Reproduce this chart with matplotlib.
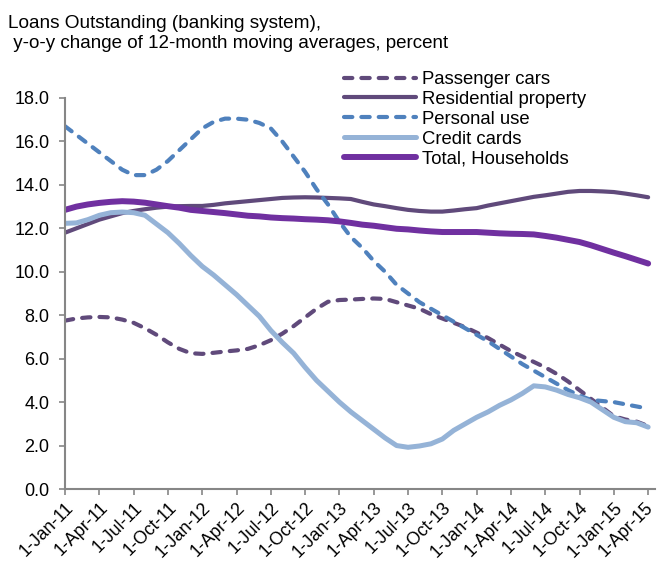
import matplotlib
matplotlib.use("Agg")
import matplotlib.pyplot as plt
import matplotlib.transforms as mtransforms
import numpy as np

plt.rcParams['font.family'] = ['Liberation Sans', 'DejaVu Sans']
plt.rcParams['lines.scale_dashes'] = False

tick_labels = ["1-Jan-11", "1-Apr-11", "1-Jul-11", "1-Oct-11", "1-Jan-12", "1-Apr-12",
               "1-Jul-12", "1-Oct-12", "1-Jan-13", "1-Apr-13", "1-Jul-13", "1-Oct-13",
               "1-Jan-14", "1-Apr-14", "1-Jul-14", "1-Oct-14", "1-Jan-15", "1-Apr-15"]

passenger_cars = [7.75, 7.85, 7.9, 7.92, 7.9, 7.8, 7.65, 7.4, 7.1, 6.75, 6.45, 6.25,
                  6.22, 6.27, 6.33, 6.38, 6.45, 6.62, 6.85, 7.15, 7.5, 7.9, 8.3, 8.62,
                  8.7, 8.72, 8.75, 8.77, 8.75, 8.6, 8.45, 8.3, 8.05, 7.85, 7.65, 7.45,
                  7.2, 6.95, 6.65, 6.35, 6.1, 5.85, 5.6, 5.3, 4.95, 4.55, 4.15, 3.75,
                  3.35, 3.2, 3.1, 2.9]
residential = [11.8, 12.0, 12.2, 12.4, 12.55, 12.7, 12.8, 12.88, 12.95, 13.0, 13.02, 13.03,
               13.03, 13.08, 13.15, 13.2, 13.25, 13.3, 13.35, 13.4, 13.42, 13.43, 13.42, 13.4,
               13.38, 13.35, 13.22, 13.1, 13.02, 12.93, 12.85, 12.8, 12.77, 12.77, 12.82, 12.88,
               12.93, 13.05, 13.15, 13.25, 13.35, 13.45, 13.52, 13.6, 13.68, 13.72, 13.72, 13.7,
               13.67, 13.6, 13.52, 13.43]
personal_use = [16.7, 16.3, 15.9, 15.5, 15.1, 14.7, 14.45, 14.45, 14.7, 15.1, 15.6, 16.1,
                16.6, 16.9, 17.05, 17.05, 17.0, 16.85, 16.6, 16.0, 15.3, 14.6, 13.8, 13.1,
                12.3, 11.6, 11.1, 10.5, 10.0, 9.4, 9.0, 8.6, 8.3, 8.0, 7.7, 7.4,
                7.1, 6.8, 6.45, 6.1, 5.75, 5.45, 5.15, 4.85, 4.55, 4.3, 4.1, 4.05,
                4.0, 3.9, 3.8, 3.7]
credit_cards = [12.23, 12.25, 12.4, 12.6, 12.72, 12.75, 12.72, 12.6, 12.2, 11.8, 11.3, 10.75,
                10.25, 9.85, 9.4, 8.95, 8.45, 7.95, 7.3, 6.75, 6.25, 5.6, 5.0, 4.5,
                4.0, 3.55, 3.15, 2.75, 2.35, 2.0, 1.92, 1.98, 2.08, 2.3, 2.7, 3.0,
                3.3, 3.55, 3.85, 4.1, 4.4, 4.75, 4.7, 4.55, 4.35, 4.2, 4.0, 3.65,
                3.3, 3.1, 3.05, 2.85]
total_households = [12.85, 13.0, 13.1, 13.17, 13.22, 13.25, 13.23, 13.18, 13.1, 13.02, 12.95, 12.85,
                    12.8, 12.75, 12.7, 12.64, 12.58, 12.55, 12.5, 12.47, 12.45, 12.42, 12.4, 12.37,
                    12.32, 12.25, 12.17, 12.12, 12.05, 11.98, 11.95, 11.9, 11.86, 11.83, 11.83, 11.83,
                    11.83, 11.8, 11.77, 11.75, 11.74, 11.72, 11.65, 11.57, 11.47, 11.37, 11.22, 11.05,
                    10.88, 10.72, 10.55, 10.38]

months = np.arange(len(total_households))
tick_pos = np.arange(len(tick_labels)) * 3

FS = 13.3
fig = plt.figure(figsize=(6.58, 5.66), dpi=100)
ax = fig.add_axes([65/658, 1-489/566, 590/658, 391/566])

dash = (6.0, 6.5)
ax.plot(months, passenger_cars, color='#604A7B', lw=3.0, dashes=dash,
        dash_capstyle='round', solid_capstyle='round', label='Passenger cars')
ax.plot(months, residential, color='#604A7B', lw=3.0, solid_capstyle='round',
        label='Residential property')
ax.plot(months, personal_use, color='#4F81BD', lw=3.0, dashes=dash,
        dash_capstyle='round', label='Personal use')
ax.plot(months, credit_cards, color='#95B3D7', lw=3.6, solid_capstyle='round',
        label='Credit cards')
ax.plot(months, total_households, color='#7030A0', lw=4.3, solid_capstyle='round',
        label='Total, Households')

ax.set_xlim(0, 51.6)
ax.set_ylim(0, 18)
ax.set_yticks(np.arange(0, 18.1, 2))
ax.set_yticklabels([f"{v:.1f}" for v in np.arange(0, 18.1, 2)], fontsize=13)
ax.set_xticks(tick_pos)
ax.set_xticklabels(tick_labels, rotation=45, ha='right', rotation_mode='anchor', fontsize=12.8)

for s in ['top', 'right']:
    ax.spines[s].set_visible(False)
for s in ['left', 'bottom']:
    ax.spines[s].set_color('#868686')
    ax.spines[s].set_linewidth(1.5)
ax.tick_params(axis='both', direction='out', length=4.3, width=1.2, color='#868686',
               labelcolor='black')
ax.tick_params(axis='x', pad=3)
ax.tick_params(axis='y', pad=7)

# nudge the last x label slightly left so it stays inside the figure
last = ax.xaxis.get_major_ticks()[-1].label1
last.set_transform(last.get_transform() +
                   mtransforms.ScaledTranslation(-4/100, 0, fig.dpi_scale_trans))

fig.text(8/658, 1-28/566, "Loans Outstanding (banking system),",
         ha='left', va='baseline', fontsize=13.7)
fig.text(8/658, 1-48/566, " y-o-y change of 12-month moving averages, percent",
         ha='left', va='baseline', fontsize=13.5)

leg = ax.legend(loc='upper left', bbox_to_anchor=(344/658, 1-71/566),
                bbox_transform=fig.transFigure, frameon=False, fontsize=FS,
                handlelength=3.9, handletextpad=0.32, labelspacing=0.16,
                borderpad=0, borderaxespad=0)

fig.savefig("out.png", dpi=100)
